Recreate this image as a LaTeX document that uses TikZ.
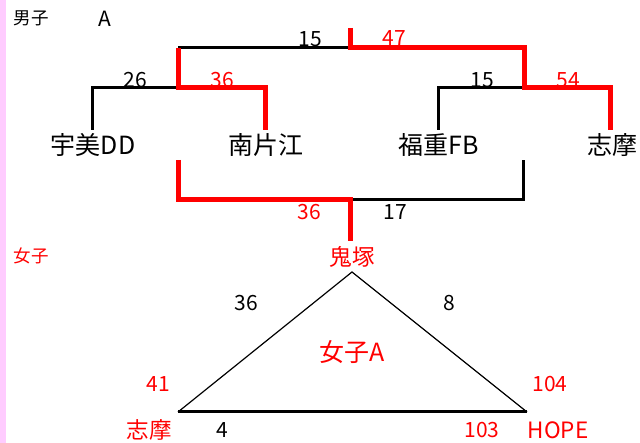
\documentclass[tikz,border=0pt]{standalone}
\usepackage{fontspec}
\setmainfont{Noto Sans CJK JP}
\usepackage{tikz}
\definecolor{pinkbar}{RGB}{255,204,255}
\tikzset{
  win/.style={draw=red, line width=5pt},
  lose/.style={draw=black, line width=3pt},
  side/.style={draw=black, line width=1.2pt},
  team/.style={font=\fontsize{25}{25}\selectfont, inner sep=0pt},
  score/.style={font=\fontsize{21}{21}\selectfont, inner sep=0pt},
  mid/.style={font=\fontsize{22.5}{22.5}\selectfont, inner sep=0pt},
  small/.style={font=\fontsize{17.5}{17.5}\selectfont, inner sep=0pt}
}
\begin{document}
\begin{tikzpicture}[x=1pt,y=-1pt]
\useasboundingbox (0,0) rectangle (640,443);
\fill[pinkbar] (0,0) rectangle (6,443);

\node[small] (boys) at (31,18) {男子};
\node[score] (boysA) at (105,19) {A};

\node[team] (udd) at (93,145) {宇美DD};
\node[team] (nkt) at (266,145) {南片江};
\node[team] (fkfb) at (439,145) {福重FB};
\node[team] (shm) at (612,145) {志摩};

\coordinate (t0) at (350,28);
\coordinate (t1) at (350,48);
\coordinate (t2) at (178,48);
\coordinate (t3) at (524,48);
\coordinate (l0) at (92,130);
\coordinate (l1) at (92,88);
\coordinate (l2) at (178,88);
\coordinate (l3) at (265,88);
\coordinate (l4) at (265,130);
\coordinate (r0) at (438,130);
\coordinate (r1) at (438,88);
\coordinate (r2) at (524,88);
\coordinate (r3) at (610,88);
\coordinate (r4) at (610,130);

\draw[lose] (t2) -- (t1);
\draw[lose] (l0) -- (l1) -- (l2);
\draw[lose] (r0) -- (r1) -- (r2);
\draw[win] (t2) -- (l2) -- (l3) -- (l4);
\draw[win] (t0) -- (t1) -- (t3) -- (r2) -- (r3) -- (r4);

\node[score] (s15a) at (310,39) {15};
\node[score, text=red] (s47) at (394,38) {47};
\node[score] (s26) at (135,80) {26};
\node[score, text=red] (s36a) at (222,80) {36};
\node[score] (s15b) at (482,80) {15};
\node[score, text=red] (s54) at (568,80) {54};

\coordinate (b0) at (178,160);
\coordinate (b1) at (178,200);
\coordinate (b2) at (350,200);
\coordinate (b3) at (350,241);
\coordinate (b4) at (523,200);
\coordinate (b5) at (523,160);

\draw[lose] (b2) -- (b4) -- (b5);
\draw[win] (b0) -- (b1) -- (b2) -- (b3);

\node[score, text=red] (s36b) at (309,212) {36};
\node[score] (s17) at (395,212) {17};

\node[small, text=red] (girls) at (31,256) {女子};
\node[mid, text=red] (oni) at (352,257) {鬼塚};

\coordinate (apex) at (352,272);
\coordinate (bl) at (178,412);
\coordinate (br) at (527,412);
\draw[side] (bl) -- (apex) -- (br);
\draw[lose] (bl) -- (br);

\node[team, text=red] (girlsA) at (352,352) {女子A};
\node[score] (s36c) at (246,303) {36};
\node[score] (s8) at (449,303) {8};
\node[score, text=red] (s41) at (158,384) {41};
\node[score, text=red] (s104) at (550,384) {104};
\node[mid, text=red] (shm2) at (149,430) {志摩};
\node[score] (s4) at (222,430) {4};
\node[score, text=red] (s103) at (482,430) {103};
\node[mid, text=red] (hope) at (558,430) {HOPE};
\end{tikzpicture}
\end{document}
